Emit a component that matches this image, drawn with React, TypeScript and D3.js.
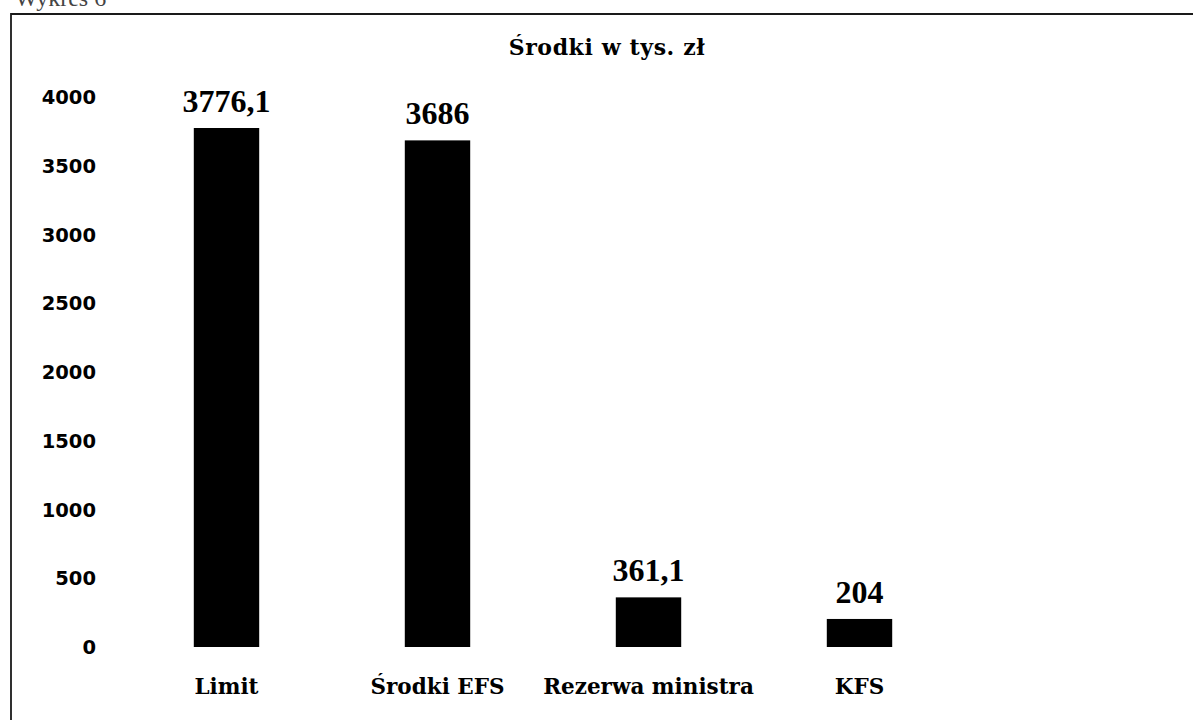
import React, { useEffect, useRef } from 'react';
import * as d3 from 'd3';

// chart data
const categories = ['Limit', 'Środki EFS', 'Rezerwa ministra', 'KFS'];
const values = [3776.1, 3686, 361.1, 204];
const valueLabels = ['3776,1', '3686', '361,1', '204'];
const yTicks = [0, 500, 1000, 1500, 2000, 2500, 3000, 3500, 4000];
const title = 'Środki w tys. zł';
const caption = 'Wykres 6';

const W = 1193;
const H = 720;

const App = () => {
  const ref = useRef<SVGSVGElement>(null);

  useEffect(() => {
    document.body.style.margin = '0';
    const svg = d3.select(ref.current);
    svg.selectAll('*').remove();

    const serif = '"DejaVu Serif", serif';
    const numSerif = '"Liberation Serif", "Times New Roman", serif';

    const x = d3.scaleBand<string>()
      .domain(categories)
      .range([121, 965])
      .paddingInner(0.69)
      .paddingOuter(0.345);

    const y = d3.scaleLinear().domain([0, 3776.1]).range([647, 128]);

    svg.append('rect').attr('width', W).attr('height', H).attr('fill', '#fff');

    // caption cut off at the top of the scan
    svg.append('text')
      .attr('x', 15).attr('y', 6)
      .attr('font-family', numSerif)
      .attr('font-size', 24)
      .attr('fill', '#444')
      .text(caption);

    // frame (top + left only visible)
    svg.append('path')
      .attr('d', `M11,${H} L11,14 L${W},14`)
      .attr('fill', 'none')
      .attr('stroke', '#1a1a1a')
      .attr('stroke-width', 1.8);

    svg.append('text')
      .attr('x', 607).attr('y', 55)
      .attr('text-anchor', 'middle')
      .attr('font-family', serif)
      .attr('font-weight', 'bold')
      .attr('font-size', 22)
      .attr('letter-spacing', 0.6)
      .text(title);

    // y axis labels, no axis line
    svg.append('g')
      .selectAll('text')
      .data(yTicks)
      .join('text')
      .attr('x', 96)
      .attr('y', d => y(d) + 7)
      .attr('text-anchor', 'end')
      .attr('font-family', '"DejaVu Sans", Verdana, sans-serif')
      .attr('font-weight', 'bold')
      .attr('font-size', 19.5)
      .text(d => d);

    const g = svg.append('g');

    g.selectAll('rect.bar')
      .data(values)
      .join('rect')
      .attr('class', 'bar')
      .attr('x', (d, i) => x(categories[i])!)
      .attr('y', d => y(d))
      .attr('width', x.bandwidth())
      .attr('height', d => y(0) - y(d))
      .attr('fill', '#000');

    g.selectAll('text.val')
      .data(values)
      .join('text')
      .attr('class', 'val')
      .attr('x', (d, i) => x(categories[i])! + x.bandwidth() / 2)
      .attr('y', d => y(d) - 16)
      .attr('text-anchor', 'middle')
      .attr('font-family', numSerif)
      .attr('font-weight', 'bold')
      .attr('font-size', 32)
      .text((d, i) => valueLabels[i]);

    g.selectAll('text.cat')
      .data(categories)
      .join('text')
      .attr('class', 'cat')
      .attr('x', d => x(d)! + x.bandwidth() / 2)
      .attr('y', 694)
      .attr('text-anchor', 'middle')
      .attr('font-family', serif)
      .attr('font-weight', 'bold')
      .attr('font-size', 21.5)
      .text(d => d);
  }, []);

  return <svg ref={ref} width={W} height={H} style={{ display: 'block' }}></svg>;
};

export default App;
